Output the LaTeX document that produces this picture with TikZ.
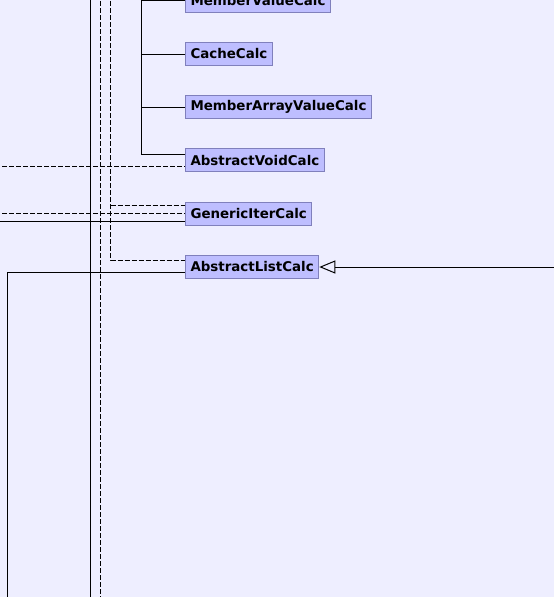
\documentclass[tikz,border=0pt]{standalone}
\usepackage{fontspec}
\setmainfont{DejaVu Sans}
\usetikzlibrary{arrows.meta}
\definecolor{canvas}{HTML}{EEEEFF}
\definecolor{cls}{HTML}{BEBEFF}
\definecolor{clsline}{HTML}{8080BC}

\begin{document}
\begin{tikzpicture}[
  x=1pt, y=-1pt,
  font=\fontsize{13.4}{15}\selectfont\bfseries,
  cls/.style={draw=clsline, fill=cls, line width=1pt, anchor=west, inner xsep=5pt, inner ysep=0pt, minimum height=23pt},
  link/.style={line width=1pt, draw=black},
  dlink/.style={link, dash pattern=on 5pt off 2pt},
  inherit/.style={link, -{Triangle[open, length=16pt, width=13pt, line width=1pt]}},
]
\fill[canvas] (0,0) rectangle (554,597);
\useasboundingbox (0,0) rectangle (554,597);

\node[cls] (mvc)  at (185,0.5)   {MemberValueCalc};
\node[cls] (cc)   at (185,54)    {CacheCalc};
\node[cls] (mavc) at (185,107)   {MemberArrayValueCalc};
\node[cls] (avc)  at (185,160.3) {AbstractVoidCalc};
\node[cls] (gic)  at (185,213.7) {GenericIterCalc};
\node[cls] (alc)  at (185,267)   {AbstractListCalc};

\coordinate (trunk) at (141,-20);
\coordinate (iter)  at (110.5,-20);
\coordinate (left)  at (-5,0);
\coordinate (right) at (560,0);
\coordinate (down)  at (7.5,610);

% entry points on the west sides
\coordinate (avc-s) at ([yshift=6pt]avc.west);
\coordinate (avc-d) at ([yshift=-6pt]avc.west);
\coordinate (gic-i) at ([yshift=8.7pt]gic.west);
\coordinate (gic-s) at ([yshift=-7.3pt]gic.west);
\coordinate (alc-d) at ([yshift=7pt]alc.west);
\coordinate (alc-s) at ([yshift=-5pt]alc.west);

% pass-through lines
\draw[link]  (90.5,-20) -- (90.5,610);
\draw[dlink] (100.5,-20) -- (100.5,610);

\foreach \n in {mvc,cc,mavc}
  \draw[link] (trunk |- \n.west) -- (\n.west);
\draw[link] (trunk) |- (avc-s);
\draw[dlink] (left |- avc-d) -- (avc-d);

\draw[dlink] (iter |- gic-i) -- (gic-i);
\draw[dlink] (left |- gic.west) -- (gic.west);
\draw[link]  (left |- gic-s) -- (gic-s);

\draw[dlink] (iter) |- (alc-d);
\draw[link]  (down) |- (alc-s);
\draw[inherit] (right |- alc.east) -- (alc.east);

\end{tikzpicture}
\end{document}
